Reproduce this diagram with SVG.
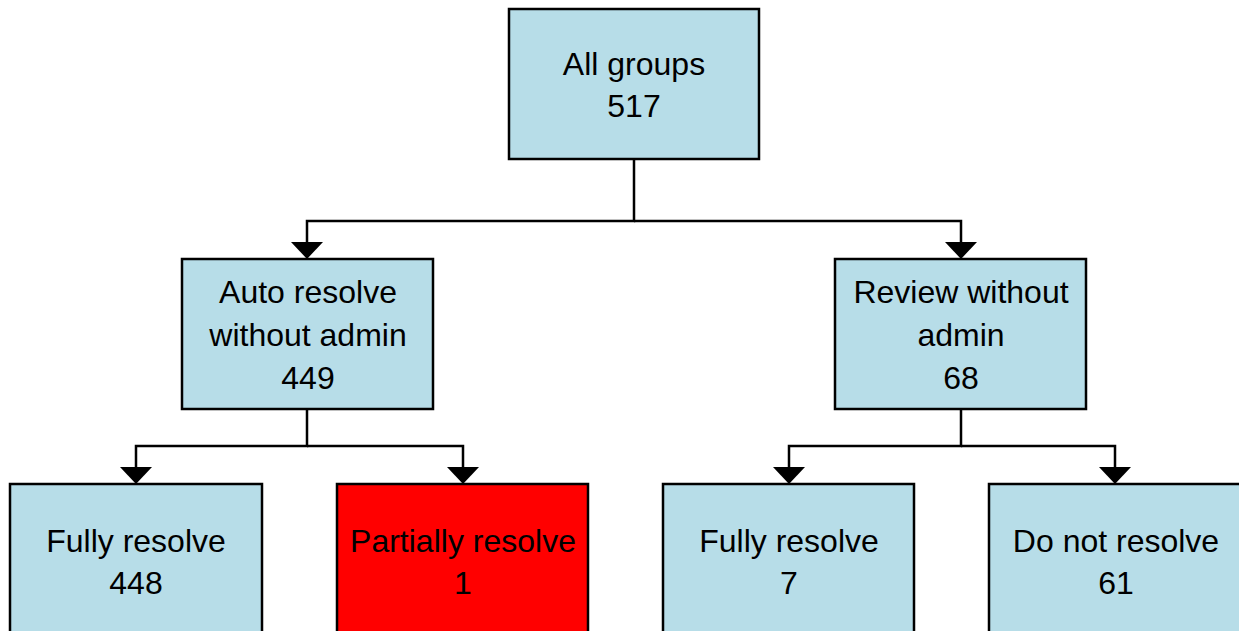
<svg xmlns="http://www.w3.org/2000/svg" width="1239" height="631" viewBox="0 0 1239 631">
<defs>
<style>
.box{fill:#b7dde8;stroke:#000;stroke-width:2.5}
.red{fill:#ff0000;stroke:#000;stroke-width:2.5}
.t{font-family:"Liberation Sans",Arial,sans-serif;font-size:32px;fill:#000;text-anchor:middle}
.c{fill:none;stroke:#000;stroke-width:2.5}
.ah{fill:#000}
</style>
</defs>
<rect width="1239" height="631" fill="#fff"/>
<g id="connectors">
<path class="c" d="M634,159 V221 H307 V242"/>
<path class="c" d="M634,221 H961 V242"/>
<path class="c" d="M307,409 V446 H136 V468"/>
<path class="c" d="M307,446 H463 V468"/>
<path class="c" d="M961,409 V446 H789 V468"/>
<path class="c" d="M961,446 H1115 V468"/>
<path class="ah" d="M291,242 H323 L307,259 Z"/>
<path class="ah" d="M945,242 H977 L961,259 Z"/>
<path class="ah" d="M120,467 H152 L136,484 Z"/>
<path class="ah" d="M447,467 H479 L463,484 Z"/>
<path class="ah" d="M773,467 H805 L789,484 Z"/>
<path class="ah" d="M1099,467 H1131 L1115,484 Z"/>
</g>
<g id="n-all">
<rect class="box" x="509" y="9" width="250" height="150"/>
<text class="t" x="634" y="75">All groups</text>
<text class="t" x="634" y="117">517</text>
</g>
<g id="n-auto">
<rect class="box" x="182" y="259" width="251" height="150"/>
<text class="t" x="308" y="303">Auto resolve</text>
<text class="t" x="308" y="346">without admin</text>
<text class="t" x="308" y="389">449</text>
</g>
<g id="n-review">
<rect class="box" x="835" y="259" width="251" height="150"/>
<text class="t" x="961" y="303">Review without</text>
<text class="t" x="961" y="346">admin</text>
<text class="t" x="961" y="389">68</text>
</g>
<g id="n-fully1">
<rect class="box" x="10" y="484" width="252" height="160"/>
<text class="t" x="136" y="552">Fully resolve</text>
<text class="t" x="136" y="594">448</text>
</g>
<g id="n-partial">
<rect class="red" x="337" y="484" width="251" height="160"/>
<text class="t" x="463" y="552">Partially resolve</text>
<text class="t" x="463" y="594">1</text>
</g>
<g id="n-fully2">
<rect class="box" x="663" y="484" width="251" height="160"/>
<text class="t" x="789" y="552">Fully resolve</text>
<text class="t" x="789" y="594">7</text>
</g>
<g id="n-donot">
<rect class="box" x="989" y="484" width="260" height="160"/>
<text class="t" x="1116" y="552">Do not resolve</text>
<text class="t" x="1116" y="594">61</text>
</g>
</svg>
